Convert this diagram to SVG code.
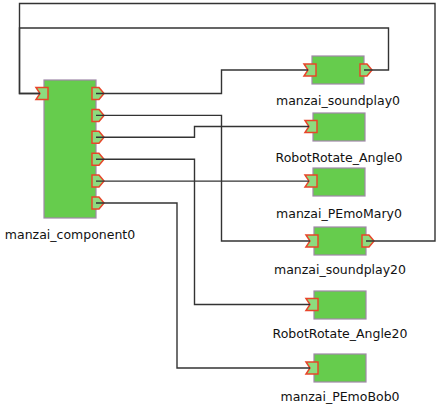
<svg xmlns="http://www.w3.org/2000/svg" xmlns:xlink="http://www.w3.org/1999/xlink" width="440" height="410" viewBox="0 0 440 410">
<style>
.comp{fill:#66cc4d;stroke:#a088a8;stroke-width:1.2}
.port{fill:#8ddc7e;stroke:#e8452a;stroke-width:1.5;stroke-linejoin:miter}
.lbl{font-family:"DejaVu Sans","Liberation Sans",sans-serif;font-size:12.5px;fill:#111;text-anchor:middle}
.wire{fill:none;stroke:#333;stroke-width:1.4}
</style>
<defs>
<polygon id="inport" class="port" points="-8,-6 4,-6 4,6 -8,6 -4,0"/>
<polygon id="outport" class="port" points="-4,-6 3,-6 8,0 3,6 -4,6"/>
</defs>
<rect width="440" height="410" fill="#fff"/>
<g id="manzai_component0">
<rect class="comp" x="44" y="80" width="52" height="138"/>
<use xlink:href="#inport" x="44" y="93.5"/>
<use xlink:href="#outport" x="96" y="93.5"/>
<use xlink:href="#outport" x="96" y="115.4"/>
<use xlink:href="#outport" x="96" y="137.3"/>
<use xlink:href="#outport" x="96" y="159.2"/>
<use xlink:href="#outport" x="96" y="181.1"/>
<use xlink:href="#outport" x="96" y="203"/>
<text class="lbl" x="70" y="238.5">manzai_component0</text>
</g>
<g id="manzai_soundplay0">
<rect class="comp" x="312" y="56" width="52" height="28"/>
<use xlink:href="#inport" x="312" y="70"/>
<use xlink:href="#outport" x="364" y="70"/>
<text class="lbl" x="338" y="104.5">manzai_soundplay0</text>
</g>
<g id="RobotRotate_Angle0">
<rect class="comp" x="313" y="113" width="52" height="28"/>
<use xlink:href="#inport" x="313" y="126.5"/>
<text class="lbl" x="339" y="162">RobotRotate_Angle0</text>
</g>
<g id="manzai_PEmoMary0">
<rect class="comp" x="313" y="168" width="52" height="28"/>
<use xlink:href="#inport" x="313" y="181.1"/>
<text class="lbl" x="339" y="217.5">manzai_PEmoMary0</text>
</g>
<g id="manzai_soundplay20">
<rect class="comp" x="314" y="227" width="52" height="28"/>
<use xlink:href="#inport" x="314" y="241"/>
<use xlink:href="#outport" x="366" y="241"/>
<text class="lbl" x="340" y="274">manzai_soundplay20</text>
</g>
<g id="RobotRotate_Angle20">
<rect class="comp" x="314" y="291" width="52" height="28"/>
<use xlink:href="#inport" x="314" y="304.5"/>
<text class="lbl" x="340" y="338">RobotRotate_Angle20</text>
</g>
<g id="manzai_PEmoBob0">
<rect class="comp" x="314" y="354" width="52" height="28"/>
<use xlink:href="#inport" x="314" y="368"/>
<text class="lbl" x="340" y="401">manzai_PEmoBob0</text>
</g>
<g id="connectors">
<polyline class="wire" points="96,93.5 221.5,93.5 221.5,70 308,70"/>
<polyline class="wire" points="96,115.4 221.5,115.4 221.5,241 310,241"/>
<polyline class="wire" points="96,137.3 194.5,137.3 194.5,126.5 309,126.5"/>
<polyline class="wire" points="96,159.2 194.5,159.2 194.5,304.5 310,304.5"/>
<polyline class="wire" points="96,181.1 309,181.1"/>
<polyline class="wire" points="96,203 177,203 177,368 310,368"/>
<polyline class="wire" points="364,70 388.5,70 388.5,28 19.5,28 19.5,93.5 40,93.5"/>
<polyline class="wire" points="366,241 435,241 435,3.5 19.5,3.5 19.5,93.5 40,93.5"/>
</g>
</svg>
